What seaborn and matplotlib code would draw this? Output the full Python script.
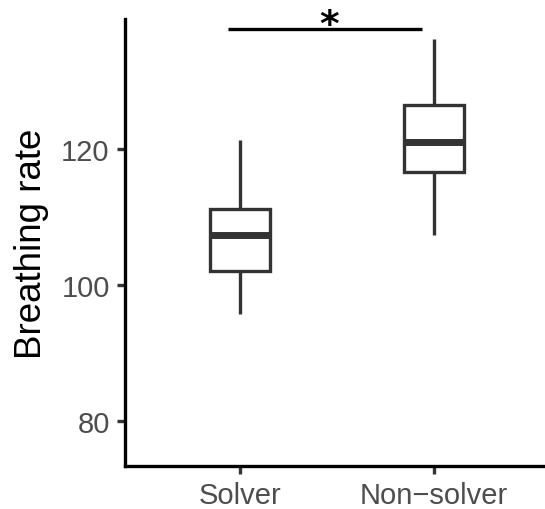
import matplotlib
matplotlib.use("Agg")
import matplotlib.pyplot as plt
import pandas as pd
import seaborn as sns


# five-number summaries (min, q1, median, q3, max)
GROUPS = ["Solver", "Non−solver"]
SOLVER_STATS = [95.7, 102.1, 107.3, 111.2, 121.3]
NON_SOLVER_STATS = [107.4, 116.6, 121.0, 126.4, 136.1]

Y_TICKS = [80, 100, 120]
Y_LABEL = "Breathing rate"
SIG_LABEL = "*"
SIG_Y = 137.6

LINE_COLOR = "#333333"
TICK_LABEL_COLOR = "#4D4D4D"


def build_frame():
    rows = []
    for group, stats in zip(GROUPS, [SOLVER_STATS, NON_SOLVER_STATS]):
        for value in stats:
            rows.append({"group": group, "rate": value})
    return pd.DataFrame(rows)


def main():
    sns.set_theme(style="ticks")
    plt.rcParams["font.family"] = ["Liberation Sans", "DejaVu Sans"]

    df = build_frame()

    fig = plt.figure(figsize=(5.45, 5.1), dpi=100)
    ax = fig.add_axes([125 / 545, 43 / 510, 420 / 545, 447 / 510])

    sns.boxplot(
        data=df,
        x="group",
        y="rate",
        order=GROUPS,
        whis=(0, 100),
        width=0.31,
        color="white",
        linecolor=LINE_COLOR,
        linewidth=2.4,
        showcaps=False,
        showfliers=False,
        medianprops={"linewidth": 5, "solid_capstyle": "butt"},
        ax=ax,
    )

    # significance bracket between the two groups
    ax.plot([-0.06, 0.94], [SIG_Y, SIG_Y], color="black", linewidth=2.4,
            solid_capstyle="butt", clip_on=False)
    ax.text(0.46, 136.7, SIG_LABEL, ha="center", va="baseline",
            fontsize=27, fontweight="bold", color="black",
            family=["DejaVu Sans"], clip_on=False)

    ax.set_xlim(-0.593, 1.572)
    ax.set_ylim(73.4, 139.1)
    ax.set_yticks(Y_TICKS)
    ax.set_xlabel("")
    ax.set_ylabel(Y_LABEL, fontsize=26.5, color="black", labelpad=9)

    sns.despine(ax=ax)
    for side in ["left", "bottom"]:
        ax.spines[side].set_linewidth(2.4)
        ax.spines[side].set_color("black")
    ax.tick_params(axis="both", length=6, width=2.4, color=LINE_COLOR,
                   labelsize=21, labelcolor=TICK_LABEL_COLOR, pad=5)

    fig.savefig("out.png", dpi=100)
    plt.close(fig)


if __name__ == "__main__":
    main()
